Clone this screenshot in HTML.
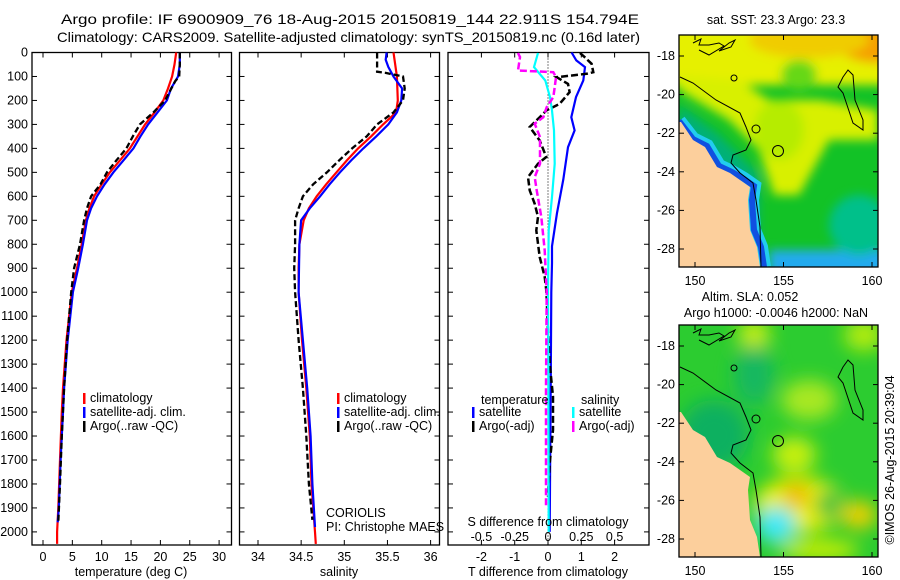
<!DOCTYPE html>
<html><head><meta charset="utf-8"><style>
body{margin:0;background:#fff;}
svg{display:block;font-family:"Liberation Sans",sans-serif;font-size:12.5px;}
</style></head><body>
<svg id="c" width="900" height="580" viewBox="0 0 900 580">
<defs>
<filter id="bl" x="-50%" y="-50%" width="200%" height="200%"><feGaussianBlur stdDeviation="9"/></filter>
<filter id="bl2" x="-50%" y="-50%" width="200%" height="200%"><feGaussianBlur stdDeviation="5"/></filter>
<clipPath id="m1c"><rect x="0" y="0" width="199" height="232"/></clipPath>
</defs>
<text x="61" y="24" textLength="578" lengthAdjust="spacingAndGlyphs" style="font-size:14px">Argo profile: IF 6900909_76 18-Aug-2015 20150819_144 22.911S 154.794E</text>
<text x="57" y="42" textLength="583" lengthAdjust="spacingAndGlyphs" style="font-size:14px">Climatology: CARS2009. Satellite-adjusted climatology: synTS_20150819.nc (0.16d later)</text>
<g id="p1"></g>
<g id="p2"></g>
<g id="p3"></g>
<g id="m1" transform="translate(679,35)"></g>
<g id="m2" transform="translate(679,325)"></g>
<text x="776" y="24" text-anchor="middle">sat. SST: 23.3 Argo: 23.3</text>
<text x="750" y="301" text-anchor="middle">Altim. SLA: 0.052</text>
<text x="776" y="317" text-anchor="middle">Argo h1000: -0.0046 h2000: NaN</text>
<text transform="translate(894,460) rotate(-90)" text-anchor="middle">©IMOS 26-Aug-2015 20:39:04</text>
</svg>
<script>
const tClimDepth=[0,50,100,150,200,250,300,350,400,450,500,550,600,650,700,800,900,1000,1200,1400,1500,1700,1900,2000,2050];
const tClim=[22.7,22.4,22.0,21.3,20.5,19.0,17.4,16.1,14.8,13.1,11.4,10.0,8.7,7.9,7.3,6.6,5.8,4.9,4.0,3.4,3.2,2.9,2.6,2.4,2.4];
const tSatDepth=[0,50,100,150,200,250,300,350,400,450,500,550,600,650,700,800,900,1000,1200,1400,1500,1700,1900,1960];
const tSat=[23.3,23.3,23.0,21.8,21.1,19.5,17.9,16.6,15.4,13.7,12.0,10.5,9.2,8.2,7.5,6.8,6.0,5.1,4.2,3.6,3.4,3.0,2.7,2.5];
const tArgoDepth=[0,50,100,120,200,250,300,350,400,450,500,550,600,650,700,800,900,1000,1200,1400,1600,1800,1960];
const tArgo=[23.3,23.3,23.2,22.5,20.8,18.8,16.5,15.3,14.2,12.5,10.9,9.8,8.2,7.5,7.0,6.3,5.3,4.8,4.1,3.6,3.2,2.9,2.6];
const sClimDepth=[0,100,200,250,300,350,400,450,500,550,600,650,700,800,900,1000,1200,1400,1600,1800,2000,2050];
const sClim=[35.57,35.61,35.62,35.60,35.45,35.31,35.16,35.03,34.91,34.79,34.68,34.59,34.53,34.48,34.47,34.47,34.51,34.56,34.60,34.62,34.66,34.67];
const sSatDepth=[0,30,60,100,150,200,250,300,350,400,450,500,550,600,650,700,800,1000,1200,1400,1600,1800,1980];
const sSat=[35.49,35.48,35.51,35.57,35.67,35.66,35.61,35.51,35.37,35.22,35.08,34.95,34.83,34.72,34.60,34.50,34.48,34.47,34.52,34.57,34.61,34.63,34.66];
const sArgoDepth=[0,80,85,100,150,200,250,300,350,400,450,500,550,600,650,700,800,900,1000,1200,1400,1600,1800,1950];
const sArgo=[35.38,35.38,35.48,35.68,35.70,35.68,35.57,35.38,35.26,35.09,34.94,34.80,34.64,34.52,34.47,34.43,34.43,34.42,34.43,34.47,34.52,34.56,34.59,34.63];
const dTSatDepth=[0,33,61,117,186,270,325,395,530,670,808,878,1000,1400,1800,2000];
const dTSat=[0.71,0.85,1.11,1.06,0.84,0.70,0.80,0.60,0.46,0.27,0.12,0.12,0.10,0.08,0.06,0.05];
const dTArgoDepth=[2,19,47,82,89,103,131,165,214,242,270,311,367,436,464,520,575,631,686,742,853,936,992,1158,1297,1436,1575,1714,1853];
const dTArgo=[0.96,1.1,1.31,1.36,1.16,0.26,0.6,0.65,0.35,-0.05,-0.25,-0.55,-0.25,-0.05,-0.3,-0.6,-0.55,-0.4,-0.3,-0.35,-0.25,-0.1,-0.05,0,0.05,0.15,0.15,0.05,0.0];
const dSSatDepth=[2,61,117,186,242,325,464,603,742,1000,1400,2000];
const dSSat=[-0.075,-0.105,-0.02,0.015,0.03,0.045,0.05,0.03,0.005,0,0.003,0.005];
const dSArgoDepth=[2,19,75,82,103,145,186,228,270,297,353,408,464,520,575,686,825,1000,1400,1900];
const dSArgo=[-0.225,-0.21,-0.225,0.04,0.06,0.05,0.04,-0.01,-0.035,-0.1,-0.06,-0.06,-0.06,-0.1,-0.085,-0.05,-0.025,-0.01,-0.015,-0.015];
const depthTicks=[0,100,200,300,400,500,600,700,800,900,1000,1100,1200,1300,1400,1500,1600,1700,1800,1900,2000];
const tTicks=[0,5,10,15,20,25,30];
const sTicks=[34,34.5,35,35.5,36];
const dTTicks=[-2,-1,0,1,2];
const dSTicks=[-0.5,-0.25,0,0.25,0.5];
const latTicks=[-18,-20,-22,-24,-26,-28];
const lonTicks=[150,155,160];

const NS='http://www.w3.org/2000/svg';
function mk(tag,attrs,parent,txt){const e=document.createElementNS(NS,tag);for(const k in attrs)e.setAttribute(k,attrs[k]);if(txt!==undefined)e.textContent=txt;parent.appendChild(e);return e;}
const yD=d=>52.5+d*0.2397;
const yTop=52.5,yBot=545;
function frame(g,x0,x1){
  const r=mk('rect',{x:x0,y:yTop,width:x1-x0,height:yBot-yTop,fill:'none',stroke:'#000','stroke-width':1.3},g);
  
  
  depthTicks.forEach(d=>{
    const t1=mk('line',{x1:x0,x2:x0+5,y1:yD(d),y2:yD(d),stroke:'#000'},g);
    
    
    const t2=mk('line',{x1:x1-5,x2:x1,y1:yD(d),y2:yD(d),stroke:'#000'},g);
    
    
  });
}
function xticks(g,ticks,fx,labelY){
  ticks.forEach(v=>{
    const x=fx(v);
    const a=mk('line',{x1:x,x2:x,y1:yTop,y2:yTop+5,stroke:'#000'},g);
    
    
    const b=mk('line',{x1:x,x2:x,y1:yBot-5,y2:yBot,stroke:'#000'},g);
    
    
    const t=mk('text',{x:x,y:labelY,'text-anchor':'middle'},g,String(v));
    
    
  });
}
function line(g,vals,depths,fx,color,w,dash,name){
  const pts=vals.map((v,i)=>fx(v).toFixed(1)+','+yD(depths[i]).toFixed(1)).join(' ');
  const p=mk('polyline',{points:pts,fill:'none',stroke:color,'stroke-width':w},g);
  if(dash)p.setAttribute('stroke-dasharray',dash);
  
  
}
function legItem(g,x,y,color,label,name){
  const m=mk('rect',{x:x,y:y-9,width:2.5,height:11,fill:color},g);
  
  
  const t=mk('text',{x:x+7,y:y},g,label);
  
  
}
const p1=document.getElementById('p1');
const xT=v=>43+v*5.87;
frame(p1,32,231.5);
depthTicks.forEach(d=>{const t=mk('text',{x:28,y:yD(d)+4,'text-anchor':'end'},p1,String(d));
  
  });
xticks(p1,tTicks,xT,561);
line(p1,tClim,tClimDepth,xT,'#f00',2.2,null,'temp-climatology-line');
line(p1,tSat,tSatDepth,xT,'#00f',2.2,null,'temp-satellite-line');
line(p1,tArgo,tArgoDepth,xT,'#000',2.3,'6,3','temp-argo-line');
{const t=mk('text',{x:131,y:576,'text-anchor':'middle'},p1,'temperature (deg C)');}
legItem(p1,83,402,'#f00','climatology','legend-climatology');
legItem(p1,83,416,'#00f','satellite-adj. clim.','legend-satellite');
legItem(p1,83,430,'#000','Argo(..raw -QC)','legend-argo');
const p2=document.getElementById('p2');
const xS=v=>258+(v-34)*86.3;
frame(p2,239.5,439.5);
xticks(p2,sTicks,xS,561);
line(p2,sClim,sClimDepth,xS,'#f00',2.2,null,'sal-climatology-line');
line(p2,sSat,sSatDepth,xS,'#00f',2.2,null,'sal-satellite-line');
line(p2,sArgo,sArgoDepth,xS,'#000',2.3,'6,3','sal-argo-line');
{const t=mk('text',{x:339,y:576,'text-anchor':'middle'},p2,'salinity');}
legItem(p2,337,402,'#f00','climatology','legend-climatology');
legItem(p2,337,416,'#00f','satellite-adj. clim.','legend-satellite');
legItem(p2,337,430,'#000','Argo(..raw -QC)','legend-argo');
{const t=mk('text',{x:326,y:517},p2,'CORIOLIS');
 const u=mk('text',{x:326,y:531},p2,'PI: Christophe MAES');}
const p3=document.getElementById('p3');
const xDT=v=>548+v*33.3, xDS=v=>548+v*133.2;
frame(p3,448,649);
xticks(p3,dTTicks,xDT,561);
dSTicks.forEach(v=>{const t=mk('text',{x:xDS(v),y:541,'text-anchor':'middle'},p3,String(v));
  });
{const z=mk('line',{x1:xDT(0),x2:xDT(0),y1:yTop,y2:yBot,stroke:'#000','stroke-dasharray':'1,2'},p3);}
line(p3,dTSat,dTSatDepth,xDT,'#00f',2.2,null,'dT-satellite-line');
line(p3,dTArgo,dTArgoDepth,xDT,'#000',2.5,'7,3','dT-argo-line');
line(p3,dSSat,dSSatDepth,xDS,'#0ff',2.2,null,'dS-satellite-line');
line(p3,dSArgo,dSArgoDepth,xDS,'#f0f',2.5,'7,3','dS-argo-line');
{const t=mk('text',{x:548,y:526,'text-anchor':'middle'},p3,'S difference from climatology');
 const u=mk('text',{x:548,y:576,'text-anchor':'middle'},p3,'T difference from climatology');
 const a=mk('text',{x:481,y:404},p3,'temperature');
 const b=mk('text',{x:581,y:404},p3,'salinity');}
legItem(p3,472,416,'#00f','satellite','legend-t-satellite');
legItem(p3,472,430,'#000','Argo(-adj)','legend-t-argo');
legItem(p3,572,416,'#0ff','satellite','legend-s-satellite');
legItem(p3,572,430,'#f0f','Argo(-adj)','legend-s-argo');
const mx=lon=>16+(lon-150)*17.7, my=lat=>21+(-18-lat)*19.3;
const coast='2,87 14,105 26,112 38,132 51,138 61,145 71,152 69,165 71,195 78,212 81,232 0,232 0,87';
function mapCommon(g){
  const c=mk('polygon',{points:coast,fill:'#fccf9c'},g);
  const k=mk('polyline',{points:'1,42 14,48 37,65 61,78 67,92 72,105 67,115 54,120 52,128 61,138 74,148 77,165 81,192 82,232',fill:'none',stroke:'#000','stroke-width':1},g);
  
  const r=mk('polygon',{points:'164,42 169,35 174,40 176,65 184,85 184,95 174,88 164,58 159,52',fill:'none',stroke:'#000'},g);
  
  const is=mk('polyline',{points:'14,8 22,4 20,10 30,10 40,8 45,11 30,20 20,15',fill:'none',stroke:'#000'},g);
  
  const is2=mk('polyline',{points:'40,16 50,8 56,5 52,12 40,16',fill:'none',stroke:'#000'},g);
  
  const ci=mk('circle',{cx:99,cy:116,r:5.5,fill:'none',stroke:'#000'},g);
  const c2=mk('circle',{cx:55,cy:43,r:3,fill:'none',stroke:'#000'},g);
  const c3=mk('circle',{cx:77,cy:94,r:4,fill:'none',stroke:'#000'},g);
  const f=mk('rect',{x:0,y:0,width:199,height:232,fill:'none',stroke:'#000','stroke-width':1.3},g);
  latTicks.forEach(l=>{const y=my(l);
    const a=mk('line',{x1:0,x2:5,y1:y,y2:y,stroke:'#000'},g);
    const b=mk('line',{x1:194,x2:199,y1:y,y2:y,stroke:'#000'},g);
    const t=mk('text',{x:-4,y:y+4,'text-anchor':'end'},g,String(l));});
  lonTicks.forEach(l=>{const x=mx(l);
    const a=mk('line',{x1:x,x2:x,y1:0,y2:5,stroke:'#000'},g);
    const b=mk('line',{x1:x,x2:x,y1:227,y2:232,stroke:'#000'},g);
    const t=mk('text',{x:x,y:250,'text-anchor':'middle'},g,String(l));});
}
function blobs(g,list,filt){const cg=mk('g',{'clip-path':'url(#m1c)'},g);const bg=mk('g',{},cg);if(filt)bg.setAttribute('filter',filt);
  list.forEach(b=>{const e=mk(b[0],b[1],bg);});return cg;}
const m1=document.getElementById('m1');
mk('rect',{x:0,y:0,width:199,height:232,fill:'#12c226'},m1);
blobs(m1,[
 ['rect',{x:-20,y:-20,width:240,height:70,fill:'#e6f000'}],
 ['polygon',{points:'0,40 60,45 90,65 140,65 199,75 199,105 150,105 120,160 95,160 80,115 50,85 0,55',fill:'#d8f000'}],
 ['ellipse',{cx:200,cy:0,rx:50,ry:28,fill:'#f5a000'}],
 ['ellipse',{cx:130,cy:5,rx:60,ry:18,fill:'#f0cc00'}],
 ['ellipse',{cx:100,cy:95,rx:25,ry:30,fill:'#b6ec00'}],
 ['ellipse',{cx:120,cy:40,rx:18,ry:15,fill:'#66d818'}],
 ['rect',{x:90,y:215,width:130,height:40,fill:'#22aaee'}],
 ['ellipse',{cx:180,cy:190,rx:30,ry:30,fill:'#00c08a'}],
 ['polygon',{points:'0,70 40,100 80,140 80,232 60,232 40,150 10,120 0,100',fill:'#00b078'}]
],'url(#bl2)');
blobs(m1,[['polyline',{points:'0,86 14,104 28,111 40,131 53,137 65,144 75,151 73,165 75,195 82,212 85,232',fill:'none',stroke:'#22ccee','stroke-width':14}],
 ['polyline',{points:'0,86 14,104 28,111 40,131 53,137 65,144 75,151 73,165 75,195 82,212 85,232',fill:'none',stroke:'#1050e0','stroke-width':6}]],null);
mapCommon(m1);
const m2=document.getElementById('m2');
mk('rect',{x:0,y:0,width:199,height:232,fill:'#2ccc30'},m2);
blobs(m2,[
 ['ellipse',{cx:75,cy:10,rx:16,ry:16,fill:'#c6ee10'}],
 ['ellipse',{cx:185,cy:10,rx:20,ry:16,fill:'#b4ec10'}],
 ['ellipse',{cx:130,cy:75,rx:28,ry:20,fill:'#a8e820'}],
 ['ellipse',{cx:75,cy:50,rx:20,ry:30,fill:'#14b860'}],
 ['ellipse',{cx:35,cy:110,rx:35,ry:35,fill:'#10b060'}],
 ['ellipse',{cx:115,cy:130,rx:22,ry:18,fill:'#c8f010'}],
 ['ellipse',{cx:120,cy:180,rx:45,ry:28,fill:'#ecef00'}],
 ['ellipse',{cx:117,cy:170,rx:12,ry:12,fill:'#f0b000'}],
 ['ellipse',{cx:180,cy:190,rx:18,ry:14,fill:'#f0d000'}],
 ['ellipse',{cx:150,cy:180,rx:14,ry:14,fill:'#20c040'}],
 ['ellipse',{cx:97,cy:200,rx:20,ry:18,fill:'#40e8f8'}],
 ['ellipse',{cx:140,cy:225,rx:40,ry:10,fill:'#d0f000'}]
],'url(#bl)');
mapCommon(m2);
</script>
</body></html>
